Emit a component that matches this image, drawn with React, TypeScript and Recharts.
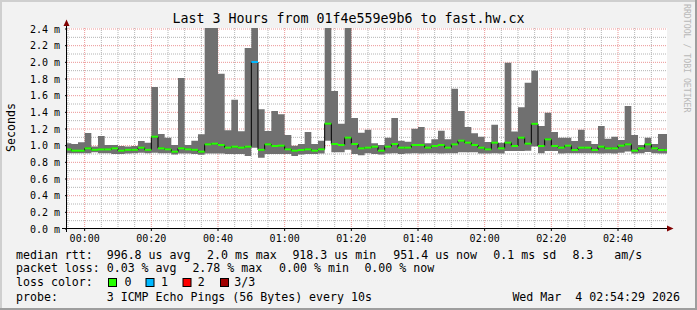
import React from 'react';
import {
  ComposedChart,
  Area,
  Line,
  Scatter,
  XAxis,
  YAxis,
  CartesianGrid } from
'recharts';

// step start, minutes relative to 00:00 (2 min steps)
const minutes = [
-6, -4, -2, 0, 2, 4, 6, 8, 10, 12, 14, 16, 18, 20, 22, 24, 26, 28, 30, 32,
34, 36, 38, 40, 42, 44, 46, 48, 50, 52, 54, 56, 58, 60, 62, 64, 66, 68, 70, 72,
74, 76, 78, 80, 82, 84, 86, 88, 90, 92, 94, 96, 98, 100, 102, 104, 106, 108, 110, 112,
114, 116, 118, 120, 122, 124, 126, 128, 130, 132, 134, 136, 138, 140, 142, 144, 146, 148, 150, 152,
154, 156, 158, 160, 162, 164, 166, 168, 170, 172, 174];

// ms
const rttMax = [
1.03, 1.02, 1.04, 1.152, 0.99, 1.116, 1.008, 1.008, 0.996, 0.99, 0.996, 1.056, 1.036, 1.704, 1.14, 1.096, 1.008, 1.812, 1.008, 1.06,
1.136, 2.9, 2.7, 1.864, 1.184, 1.552, 1.172, 2.172, 3.2, 1.436, 1.176, 1.416, 1.376, 1.128, 1.0, 1.02, 1.164, 1.02, 1.06, 2.8,
1.656, 1.264, 2.6, 1.332, 1.156, 1.19, 1.028, 1.008, 1.096, 1.332, 1.06, 1.048, 1.204, 1.224, 1.028, 1.076, 1.18, 1.076, 1.684, 1.416,
1.224, 1.148, 1.108, 1.044, 1.25, 1.036, 1.996, 1.17, 1.462, 1.754, 1.898, 1.236, 1.396, 1.164, 1.096, 1.096, 1.056, 1.19, 1.056, 1.02,
1.236, 1.084, 1.108, 1.068, 1.476, 1.128, 1.008, 1.096, 1.02, 1.14, 1.14];

const rttMin = [
0.91, 0.91, 0.91, 0.91, 0.92, 0.91, 0.91, 0.9, 0.9, 0.905, 0.91, 0.915, 0.91, 0.915, 0.91, 0.91, 0.895, 0.905, 0.905, 0.9,
0.89, 0.905, 0.905, 0.905, 0.9, 0.9, 0.9, 0.876, 0.976, 0.856, 0.9, 0.9, 0.9, 0.9, 0.876, 0.895, 0.9, 0.9, 0.905, 1.06,
0.92, 0.92, 0.95, 0.9, 0.885, 0.91, 0.9, 0.895, 0.905, 0.91, 0.9, 0.905, 0.91, 0.905, 0.91, 0.91, 0.905, 0.91, 0.91, 0.92,
0.92, 0.92, 0.905, 0.905, 0.91, 0.905, 0.935, 0.935, 0.935, 0.94, 0.99, 0.91, 0.935, 0.935, 0.905, 0.91, 0.91, 0.91, 0.91, 0.91,
0.905, 0.91, 0.905, 0.915, 0.93, 0.905, 0.91, 0.925, 0.91, 0.905, 0.905];

const rttMedian = [
0.955, 0.94, 0.94, 0.968, 0.95, 0.955, 0.955, 0.968, 0.94, 0.95, 0.95, 0.976, 0.95, 1.108, 0.968, 0.956, 0.928, 0.968, 0.956, 0.95,
0.928, 1.016, 1.024, 1.008, 0.976, 0.988, 0.976, 0.988, 2.004, 0.95, 1.016, 0.996, 1.0, 0.956, 0.94, 0.948, 0.956, 0.94, 0.956, 1.264,
1.02, 1.008, 1.096, 1.02, 0.968, 0.976, 0.988, 0.94, 0.988, 1.02, 0.976, 0.976, 1.008, 1.008, 0.976, 0.996, 1.008, 0.976, 1.016, 1.06,
1.036, 1.008, 0.976, 0.956, 1.036, 0.968, 1.036, 0.996, 1.096, 1.024, 1.262, 0.996, 1.076, 0.996, 0.976, 1.0, 0.948, 0.976, 0.976, 0.948,
0.988, 0.968, 0.968, 1.0, 1.016, 0.94, 0.968, 1.016, 0.968, 0.948, 0.948];

const lossCount = [
0, 0, 0, 0, 0, 0, 0, 0, 0, 0, 0, 0, 0, 0, 0, 0, 0, 0, 0, 0,
0, 0, 0, 0, 0, 0, 0, 0, 1, 0, 0, 0, 0, 0, 0, 0, 0, 0, 0, 0,
0, 0, 0, 0, 0, 0, 0, 0, 0, 0, 0, 0, 0, 0, 0, 0, 0, 0, 0, 0,
0, 0, 0, 0, 0, 0, 0, 0, 0, 0, 0, 0, 0, 0, 0, 0, 0, 0, 0, 0,
0, 0, 0, 0, 0, 0, 0, 0, 0, 0, 0];

const lossColors = ['#26ff00', '#00b8ff', '#ff0000', '#a00000'];
const lossLabels = ['0', '1', '2', '3/3'];

const xTicks = [0, 20, 40, 60, 80, 100, 120, 140, 160];
const xTickLabels = ['00:00', '00:20', '00:40', '01:00', '01:20', '01:40', '02:00', '02:20', '02:40'];
const yTicks = [0, 0.2, 0.4, 0.6, 0.8, 1.0, 1.2, 1.4, 1.6, 1.8, 2.0, 2.2, 2.4];
const yMinorGrid = [0.1, 0.3, 0.5, 0.7, 0.9, 1.1, 1.3, 1.5, 1.7, 1.9, 2.1, 2.3];
const yMajorGrid = [0.2, 0.4, 0.6, 0.8, 1.0, 1.2, 1.4, 1.6, 1.8, 2.0, 2.2, 2.4];
const xMinorGrid = [-5, 5, 10, 15, 25, 30, 35, 45, 50, 55, 65, 70, 75, 85, 90, 95, 105, 110, 115, 125, 130, 135, 145, 150, 155, 165, 170];
const xMajorGrid = [0, 20, 40, 60, 80, 100, 120, 140, 160];

const W = 697;
const H = 310;
const PLOT_L = 67;
const PLOT_R = 667;
const PLOT_T = 28;
const PLOT_B = 229;
const X_DOMAIN: [number, number] = [-5.3, 174.7];
const Y_DOMAIN: [number, number] = [0, 2.412];
const STEP_PX = (PLOT_R - PLOT_L) * 2 / (X_DOMAIN[1] - X_DOMAIN[0]);

const MONO = '"DejaVu Sans Mono", monospace';

const rows = minutes.map((t, i) => ({
  t,
  range: [rttMin[i], rttMax[i]],
  med: rttMedian[i],
  loss: lossCount[i]
}));
const last = rows[rows.length - 1];
// closing point so the last step is drawn
const table = [...rows, { ...last, t: last.t + 2 }];

const hGen = (vals: number[]) => (p: any) =>
vals.map((v) =>
p.yAxis && typeof p.yAxis.scale === 'function' ?
p.yAxis.scale(v) :
p.offset.top + p.offset.height * (1 - v / Y_DOMAIN[1])
);
const vGen = (vals: number[]) => (p: any) =>
vals.map((v) =>
p.xAxis && typeof p.xAxis.scale === 'function' ?
p.xAxis.scale(v) :
p.offset.left + p.offset.width * (v - X_DOMAIN[0]) / (X_DOMAIN[1] - X_DOMAIN[0])
);

function MedianTick(props: any) {
  const { cx, cy, payload } = props;
  if (cx == null || cy == null) return null;
  return (
    <rect
      x={cx}
      y={cy - 1}
      width={STEP_PX}
      height={2}
      fill={lossColors[payload.loss] || lossColors[0]} />);

}

function Overlay() {
  const legend1: [string, number][] = [
  ['median rtt:', 16],
  ['996.8 us avg', 106.7],
  ['2.0 ms max', 207],
  ['918.3 us min', 292.4],
  ['951.4 us now', 393.3],
  ['0.1 ms sd', 493.3],
  ['8.3', 572.4],
  ['am/s', 614.2]];

  const legend2: [string, number][] = [
  ['packet loss:', 16],
  ['0.03 % avg', 106.7],
  ['2.78 % max', 192.4],
  ['0.00 % min', 279.1],
  ['0.00 % now', 364.4]];

  const boxX = [108, 145.5, 182.5, 220];
  const labelX = [124.4, 160.9, 197.8, 234.2];
  const txt = { fontFamily: MONO, fontSize: 11.6, fill: '#000', whiteSpace: 'pre' as const };
  return (
    <svg
      width={W}
      height={H}
      style={{ position: 'absolute', left: 0, top: 0, pointerEvents: 'none' }}>

      {/* shaded frame */}
      <line x1={0} y1={1} x2={W} y2={1} stroke="#cfcfcf" strokeWidth={2} />
      <line x1={1} y1={0} x2={1} y2={H} stroke="#cfcfcf" strokeWidth={2} />
      <line x1={0} y1={H - 1} x2={W} y2={H - 1} stroke="#9e9e9e" strokeWidth={2} />
      <line x1={W - 1} y1={0} x2={W - 1} y2={H} stroke="#9e9e9e" strokeWidth={2} />

      <text x={348.5} y={23} textAnchor="middle" style={{ fontFamily: MONO, fontSize: 13.3 }} fill="#000">
        Last 3 Hours from 01f4e559e9b6 to fast.hw.cx
      </text>

      <text
        transform="translate(684,4) rotate(90)"
        style={{ fontFamily: MONO, fontSize: 8.2 }}
        fill="#b8b8b8">
        RRDTOOL / TOBI OETIKER
      </text>

      <text
        transform="translate(14.5,127.5) rotate(-90)"
        textAnchor="middle"
        style={{ fontFamily: MONO, fontSize: 11.6 }}
        fill="#000">
        Seconds
      </text>

      {/* axes with arrows */}
      <line x1={62} y1={228.5} x2={669} y2={228.5} stroke="#000" strokeWidth={1} />
      <line x1={66.5} y1={232} x2={66.5} y2={24} stroke="#000" strokeWidth={1} />
      <polygon points="63.5,26 66.5,19.5 69.5,26" fill="#800000" />
      <polygon points="667,225.5 673.5,228.5 667,231.5" fill="#800000" />

      {legend1.map(([s, x]) =>
      <text key={s} x={x} y={259} style={txt}>{s}</text>
      )}
      {legend2.map(([s, x]) =>
      <text key={s + x} x={x} y={272} style={txt}>{s}</text>
      )}
      <text x={16} y={286} style={txt}>loss color:</text>
      {lossColors.map((c, i) =>
      <g key={c}>
          <rect x={boxX[i] + 0.5} y={278.5} width={8} height={8} fill={c} stroke="#000" strokeWidth={1} />
          <text x={labelX[i]} y={286} style={txt}>{lossLabels[i]}</text>
        </g>
      )}
      <text x={16} y={301} style={txt}>probe:</text>
      <text x={106.7} y={301} style={txt}>3 ICMP Echo Pings (56 Bytes) every 10s</text>
      <text x={512.4} y={301} style={txt}>Wed Mar  4 02:54:29 2026</text>
    </svg>);

}

export default function App() {
  return (
    <div style={{ position: 'absolute', left: 0, top: 0, width: W, height: H, background: '#f2f2f2' }}>
      <ComposedChart
        width={W}
        height={H}
        data={table}
        margin={{ top: PLOT_T, right: W - PLOT_R, bottom: H - PLOT_B - 20, left: PLOT_L - 60 }}>

        <CartesianGrid
          fill="#ffffff"
          stroke="#b4b4b4"
          strokeDasharray="1 1"
          horizontalCoordinatesGenerator={hGen(yMinorGrid)}
          verticalCoordinatesGenerator={vGen(xMinorGrid)} />

        <CartesianGrid
          stroke="#eb9595"
          strokeDasharray="1 1"
          horizontalCoordinatesGenerator={hGen(yMajorGrid)}
          verticalCoordinatesGenerator={vGen(xMajorGrid)} />

        <XAxis
          dataKey="t"
          type="number"
          domain={X_DOMAIN}
          allowDataOverflow
          ticks={xTicks}
          tickFormatter={(v: number) => xTickLabels[xTicks.indexOf(v)] ?? ''}
          height={20}
          axisLine={false}
          tickSize={2}
          tickMargin={3.5}
          tickLine={{ stroke: '#000' }}
          tick={{ fontFamily: MONO, fontSize: 10, fill: '#000' }}
          interval={0} />

        <YAxis
          type="number"
          domain={Y_DOMAIN}
          allowDataOverflow
          ticks={yTicks}
          tickFormatter={(v: number) => v.toFixed(1) + ' m'}
          width={60}
          axisLine={false}
          tickSize={2}
          tickMargin={5}
          tickLine={{ stroke: '#000' }}
          tick={{ fontFamily: MONO, fontSize: 10, fill: '#000' }}
          interval={0} />

        <Area
          dataKey="range"
          type="stepAfter"
          fill="#707070"
          fillOpacity={1}
          stroke="none"
          isAnimationActive={false} />

        <Line
          dataKey="med"
          type="stepAfter"
          stroke="#000"
          strokeWidth={1}
          dot={false}
          activeDot={false}
          isAnimationActive={false} />

        <Scatter
          data={rows}
          dataKey="med"
          shape={MedianTick}
          isAnimationActive={false} />

      </ComposedChart>
      <Overlay />
    </div>);

}
